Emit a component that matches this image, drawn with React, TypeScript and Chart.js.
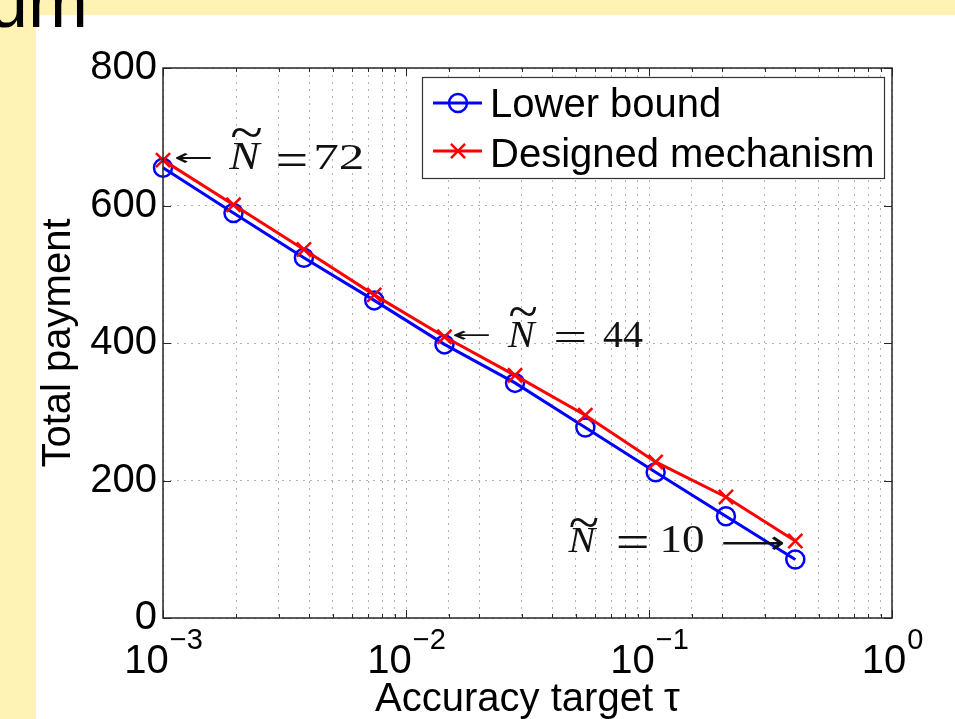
import React, { useEffect, useRef } from 'react';
import { Chart, registerables } from 'chart.js';

Chart.register(...registerables);

// ---------------- data ----------------
const accuracyTargets = [0.001, 0.00195, 0.0038, 0.0074, 0.0144, 0.0281, 0.0547, 0.1065, 0.2073, 0.4];
const lowerBound = [655, 589, 524, 462, 398, 342, 277, 212, 148, 85];
const designedMechanism = [666, 601, 536, 470, 409, 353, 295, 227, 176, 112];
const seriesNames = ['Lower bound', 'Designed mechanism'];
const yTickValues = [0, 200, 400, 600, 800];
const xDecadeValues = [0.001, 0.01, 0.1, 1];
const xDecadeExponents = ['\u22123', '\u22122', '\u22121', '0'];
const annotatedIndices = [0, 4, 9];
const annotatedN = ['72', '44', '10'];
const xAxisTitle = 'Accuracy target \u03C4';
const yAxisTitle = 'Total payment';
const slideTitleFragment = 'um';

// ---------------- styling ----------------
const SANS = '"Liberation Sans", Arial, Helvetica, sans-serif';
const SERIF = '"Liberation Serif", "DejaVu Serif", serif';
const BLUE = '#0000ff';
const RED = '#ff0000';
const YELLOW = '#fff2b4';
const GRID = 'rgba(0,0,0,0.3)';

// annotation glyph boxes relative to the annotated (red) point: [x0, x1, y0, y1]
const annotationLayouts = [
  { arrow: '\u2190', arrowBox: [12, 49, -8, 3], nBox: [65, 99, -17, 9], tildeBox: [69, 99, -32, -23], eqBox: [114, 143, -7, 5], numBox: [153, 200, -15, 9] },
  { arrow: '\u2190', arrowBox: [8.5, 45.5, -7, 3], nBox: [62.5, 92.5, -15, 10], tildeBox: [65.5, 92.5, -29, -20], eqBox: [110.5, 140.5, -5, 5], numBox: [158.5, 198.5, -15, 10] },
  { arrow: '\u27F6', arrowBox: [-72, -12, -6, 9], nBox: [-228, -198, -13, 11], tildeBox: [-225, -197, -23, -14], eqBox: [-178, -148, -6, 6], numBox: [-132, -92, -16, 11] },
];

function fitText(ctx: CanvasRenderingContext2D, text: string, font: string, x0: number, x1: number, y0: number, y1: number) {
  ctx.save();
  ctx.font = font;
  ctx.textAlign = 'left';
  ctx.textBaseline = 'alphabetic';
  const m = ctx.measureText(text);
  const w = m.actualBoundingBoxLeft + m.actualBoundingBoxRight;
  const h = m.actualBoundingBoxAscent + m.actualBoundingBoxDescent;
  ctx.translate(x0, y0);
  ctx.scale((x1 - x0) / w, (y1 - y0) / h);
  ctx.fillText(text, m.actualBoundingBoxLeft, m.actualBoundingBoxAscent);
  ctx.restore();
}

function drawMarker(ctx: CanvasRenderingContext2D, style: string, x: number, y: number, r: number, color: string, lw: number) {
  ctx.save();
  ctx.strokeStyle = color;
  ctx.lineWidth = lw;
  ctx.beginPath();
  if (style === 'circle') {
    ctx.arc(x, y, r, 0, Math.PI * 2);
  } else {
    const o = r * Math.SQRT1_2;
    ctx.moveTo(x - o, y - o);
    ctx.lineTo(x + o, y + o);
    ctx.moveTo(x + o, y - o);
    ctx.lineTo(x - o, y + o);
  }
  ctx.stroke();
  ctx.restore();
}

const matlabPlugin = {
  id: 'matlabLook',
  afterDraw(chart: any) {
    const ctx: CanvasRenderingContext2D = chart.ctx;
    const ca = chart.chartArea;
    const xs = chart.scales.x;
    const ys = chart.scales.y;

    // ----- axes box + inward ticks -----
    ctx.save();
    ctx.strokeStyle = '#262626';
    ctx.lineWidth = 1.5;
    ctx.strokeRect(ca.left, ca.top, ca.right - ca.left, ca.bottom - ca.top);
    ctx.lineWidth = 1;
    ctx.beginPath();
    xs.ticks.forEach((t: any) => {
      const x = Math.round(xs.getPixelForValue(t.value)) + 0.5;
      const isMajor = xDecadeValues.some((d) => Math.abs(d - t.value) / d < 1e-6);
      const len = isMajor ? 8 : 4;
      ctx.moveTo(x, ca.bottom);
      ctx.lineTo(x, ca.bottom - len);
      ctx.moveTo(x, ca.top);
      ctx.lineTo(x, ca.top + len);
    });
    yTickValues.forEach((v) => {
      const y = Math.round(ys.getPixelForValue(v)) + 0.5;
      ctx.moveTo(ca.left, y);
      ctx.lineTo(ca.left + 8, y);
      ctx.moveTo(ca.right, y);
      ctx.lineTo(ca.right - 8, y);
    });
    ctx.stroke();
    ctx.restore();

    // ----- x tick labels: 10^n -----
    ctx.save();
    ctx.fillStyle = '#000';
    ctx.textBaseline = 'alphabetic';
    ctx.textAlign = 'left';
    xDecadeValues.forEach((v, i) => {
      const x = xs.getPixelForValue(v);
      ctx.font = `40px ${SANS}`;
      const wb = ctx.measureText('10').width;
      ctx.font = `29px ${SANS}`;
      const we = ctx.measureText(xDecadeExponents[i]).width;
      const start = x - (wb + we) / 2;
      ctx.font = `40px ${SANS}`;
      ctx.fillText('10', start, ca.bottom + 55);
      ctx.font = `29px ${SANS}`;
      ctx.fillText(xDecadeExponents[i], start + wb + 1, ca.bottom + 31);
    });
    ctx.restore();

    // ----- annotations -----
    annotatedIndices.forEach((idx, k) => {
      const px = xs.getPixelForValue(accuracyTargets[idx]);
      const py = ys.getPixelForValue(designedMechanism[idx]);
      const L = annotationLayouts[k];
      ctx.save();
      ctx.fillStyle = '#111';
      const b = (bx: number[]) => [px + bx[0], px + bx[1], py + bx[2], py + bx[3]];
      const [a0, a1, a2, a3] = b(L.arrowBox);
      fitText(ctx, L.arrow, `36px "DejaVu Sans", ${SERIF}`, a0, a1, a2, a3);
      const [n0, n1, n2, n3] = b(L.nBox);
      fitText(ctx, 'N', `italic 36px ${SERIF}`, n0, n1, n2, n3);
      const [t0, t1, t2, t3] = b(L.tildeBox);
      fitText(ctx, '~', `36px ${SERIF}`, t0, t1, t2, t3);
      const [e0, e1, e2, e3] = b(L.eqBox);
      fitText(ctx, '=', `36px ${SERIF}`, e0, e1, e2, e3);
      const [d0, d1, d2, d3] = b(L.numBox);
      fitText(ctx, annotatedN[k], `36px ${SERIF}`, d0, d1, d2, d3);
      ctx.restore();
    });

    // ----- legend -----
    const lx0 = ca.left + 259;
    const lx1 = ca.right - 8;
    const ly0 = ca.top + 9;
    const ly1 = ca.top + 110;
    ctx.save();
    ctx.fillStyle = '#fff';
    ctx.fillRect(lx0, ly0, lx1 - lx0, ly1 - ly0);
    ctx.strokeStyle = '#333';
    ctx.lineWidth = 1.2;
    ctx.strokeRect(lx0 + 0.5, ly0 + 0.5, lx1 - lx0, ly1 - ly0);
    const entries = [
      { color: BLUE, style: 'circle', r: 9, lw: 2.5, lineY: ly0 + 26, textY: ly0 + 40 },
      { color: RED, style: 'crossRot', r: 10, lw: 2.5, lineY: ly0 + 74, textY: ly0 + 90 },
    ];
    entries.forEach((e, i) => {
      ctx.strokeStyle = e.color;
      ctx.lineWidth = 3;
      ctx.beginPath();
      ctx.moveTo(lx0 + 11, e.lineY);
      ctx.lineTo(lx0 + 60, e.lineY);
      ctx.stroke();
      drawMarker(ctx, e.style, lx0 + 36, e.lineY, e.r, e.color, e.lw);
      ctx.fillStyle = '#000';
      ctx.font = `40px ${SANS}`;
      ctx.textAlign = 'left';
      ctx.textBaseline = 'alphabetic';
      ctx.fillText(seriesNames[i], lx0 + 68, e.textY);
    });
    ctx.restore();
  },
};

export default function App() {
  const canvasRef = useRef<HTMLCanvasElement | null>(null);

  useEffect(() => {
    if (!canvasRef.current) return;
    Chart.defaults.font.family = SANS;
    const chart = new Chart(canvasRef.current, {
      type: 'line',
      data: {
        datasets: [
          {
            label: seriesNames[0],
            data: accuracyTargets.map((x, i) => ({ x, y: lowerBound[i] })),
            borderColor: BLUE,
            backgroundColor: BLUE,
            borderWidth: 3,
            pointStyle: 'circle',
            pointRadius: 9,
            pointBorderWidth: 2.5,
            pointBackgroundColor: 'rgba(0,0,0,0)',
            pointBorderColor: BLUE,
            clip: false as any,
            order: 1,
          },
          {
            label: seriesNames[1],
            data: accuracyTargets.map((x, i) => ({ x, y: designedMechanism[i] })),
            borderColor: RED,
            backgroundColor: RED,
            borderWidth: 3,
            pointStyle: 'crossRot',
            pointRadius: 10,
            pointBorderWidth: 2.5,
            pointBorderColor: RED,
            clip: false as any,
            order: 0,
          },
        ],
      },
      options: {
        responsive: false,
        animation: false,
        layout: { padding: { left: 0, top: 68, right: 63, bottom: 0 } },
        plugins: { legend: { display: false }, tooltip: { enabled: false } },
        scales: {
          x: {
            type: 'logarithmic',
            min: 0.001,
            max: 1,
            ticks: { display: false },
            grid: { color: GRID, lineWidth: 1, drawTicks: false },
            border: { display: false, dash: [2, 5] },
            title: { display: true, text: xAxisTitle, color: '#000', font: { size: 40, lineHeight: 0.95 }, padding: { top: 0, bottom: 0 } },
            afterFit: (s: any) => { s.height = 101; },
          },
          y: {
            type: 'linear',
            min: 0,
            max: 800,
            ticks: { stepSize: 200, color: '#000', font: { size: 40 }, padding: 6 },
            grid: { color: GRID, lineWidth: 1, drawTicks: false },
            border: { display: false, dash: [2, 5] },
            title: { display: true, text: yAxisTitle, color: '#000', font: { size: 40, lineHeight: 1 }, padding: { top: 39, bottom: 0 } },
            afterFit: (s: any) => { s.width = 163; },
          },
        },
      } as any,
      plugins: [matlabPlugin],
    });
    return () => chart.destroy();
  }, []);

  return (
    <div style={{ position: 'absolute', left: 0, top: 0, width: 955, height: 719, background: '#fff', overflow: 'hidden' }}>
      <div style={{ position: 'absolute', left: 0, top: 0, width: 955, height: 15, background: YELLOW }} />
      <div style={{ position: 'absolute', left: 0, top: 0, width: 36, height: 719, background: YELLOW }} />
      <canvas ref={canvasRef} width={955} height={719} style={{ position: 'absolute', left: 0, top: 0 }} />
      <div
        style={{
          position: 'absolute',
          left: -12,
          top: -34,
          fontFamily: SANS,
          fontSize: 72,
          lineHeight: '72px',
          color: '#000',
          whiteSpace: 'nowrap',
        }}
      >
        {slideTitleFragment}
      </div>
    </div>
  );
}
